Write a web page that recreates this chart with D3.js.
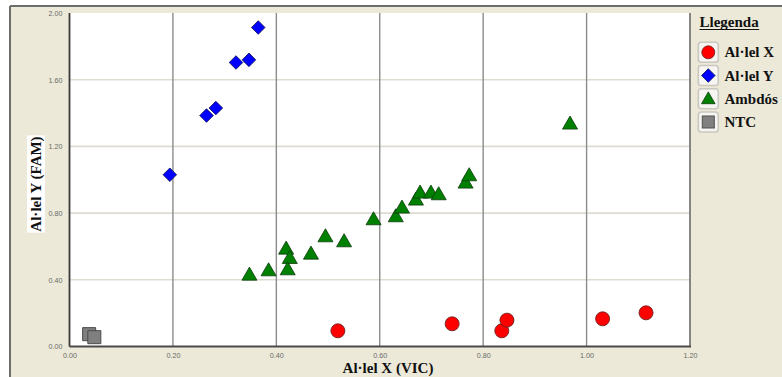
<!DOCTYPE html>
<html>
<head>
<meta charset="utf-8">
<script src="https://cdn.jsdelivr.net/npm/d3@7"></script>
<style>
  html, body { margin: 0; padding: 0; background: #ffffff; }
  svg { display: block; }
</style>
</head>
<body>
<svg id="chart" width="782" height="377"></svg>
<script>
// Allelic discrimination: VIC (allele X) vs FAM (allele Y) signal per sample
const xTicks = [0, 0.2, 0.4, 0.6, 0.8, 1.0, 1.2];
const yTicks = [0, 0.4, 0.8, 1.2, 1.6, 2.0];

const allelXvic = [0.519, 0.740, 0.836, 0.846, 1.031, 1.115];
const allelXfam = [0.094, 0.136, 0.094, 0.158, 0.166, 0.202];

const allelYvic = [0.194, 0.265, 0.283, 0.322, 0.347, 0.365];
const allelYfam = [1.030, 1.385, 1.430, 1.703, 1.719, 1.913];

const ambdosVic = [0.348, 0.385, 0.419, 0.426, 0.422, 0.467, 0.495, 0.531, 0.588,
                   0.631, 0.643, 0.670, 0.678, 0.699, 0.714, 0.766, 0.773, 0.968];
const ambdosFam = [0.424, 0.450, 0.580, 0.524, 0.456, 0.550, 0.654, 0.624, 0.756,
                   0.774, 0.826, 0.874, 0.916, 0.916, 0.906, 0.976, 1.020, 1.330];

const ntcVic = [0.038, 0.048];
const ntcFam = [0.074, 0.056];

const legendLabels = ["Al·lel X", "Al·lel Y", "Ambdós", "NTC"];

const svg = d3.select("#chart");
const W = 782, H = 377;
const plot = { left: 69.5, right: 690, top: 13, bottom: 346.5 };

// panel background and frame
svg.append("rect").attr("x", 10).attr("y", 6).attr("width", W - 10).attr("height", H - 6)
  .attr("fill", "#ece9d8");
svg.append("line").attr("x1", 10).attr("x2", W).attr("y1", 6).attr("y2", 6)
  .attr("stroke", "#6e6e6e").attr("stroke-width", 2);
svg.append("line").attr("x1", 10).attr("x2", 10).attr("y1", 6).attr("y2", H)
  .attr("stroke", "#6e6e6e").attr("stroke-width", 2);

const x = d3.scaleLinear().domain([0, 1.2]).range([plot.left, plot.right]);
const y = d3.scaleLinear().domain([0, 2]).range([plot.bottom, plot.top]);

// plot area
svg.append("rect").attr("x", plot.left).attr("y", plot.top)
  .attr("width", plot.right - plot.left).attr("height", plot.bottom - plot.top)
  .attr("fill", "#ffffff");

// horizontal grid
svg.append("g").selectAll("line").data(yTicks.filter(d => d > 0 && d < 2)).join("line")
  .attr("x1", plot.left).attr("x2", plot.right)
  .attr("y1", d => y(d)).attr("y2", d => y(d))
  .attr("stroke", "#dedbd2").attr("stroke-width", 1.6);

// vertical grid
svg.append("g").selectAll("line").data(xTicks.filter(d => d > 0 && d < 1.2)).join("line")
  .attr("x1", d => x(d)).attr("x2", d => x(d))
  .attr("y1", plot.top).attr("y2", plot.bottom)
  .attr("stroke", "#8c8c8c").attr("stroke-width", 1.4);

// plot borders
svg.append("line").attr("x1", plot.right).attr("x2", plot.right)
  .attr("y1", plot.top).attr("y2", plot.bottom)
  .attr("stroke", "#7a7a7a").attr("stroke-width", 1.8);
svg.append("line").attr("x1", plot.left).attr("x2", plot.right + 1)
  .attr("y1", plot.bottom).attr("y2", plot.bottom)
  .attr("stroke", "#4a4a4a").attr("stroke-width", 1.8);
svg.append("line").attr("x1", plot.left).attr("x2", plot.left)
  .attr("y1", plot.top).attr("y2", plot.bottom)
  .attr("stroke", "#3a3a3a").attr("stroke-width", 1.8);

// tick labels via axes (no domain / tick lines)
const fmt = d3.format(".2f");
const xAxis = svg.append("g").attr("transform", `translate(0,${plot.bottom + 4})`)
  .call(d3.axisBottom(x).tickValues(xTicks).tickFormat(fmt).tickSize(0).tickPadding(2));
const yAxis = svg.append("g").attr("transform", `translate(${plot.left - 7},0)`)
  .call(d3.axisLeft(y).tickValues(yTicks).tickFormat(fmt).tickSize(0).tickPadding(0));
[xAxis, yAxis].forEach(g => {
  g.select(".domain").remove();
  g.selectAll("text").attr("font-family", "Arial, 'Liberation Sans', sans-serif")
    .attr("font-size", 7.2).attr("fill", "#6a6a6a");
});

// axis titles
svg.append("text").attr("x", 388).attr("y", 373).attr("text-anchor", "middle")
  .attr("font-family", "'Liberation Serif', 'Times New Roman', serif")
  .attr("font-weight", "bold").attr("font-size", 15).attr("fill", "#111")
  .text("Al·lel X (VIC)");

const yTitleG = svg.append("g").attr("transform", "translate(41,184) rotate(-90)");
const yTitleBg = yTitleG.append("rect").attr("fill", "#ffffff");
const yTitle = yTitleG.append("text").attr("x", 0).attr("y", 0).attr("text-anchor", "middle")
  .attr("font-family", "'Liberation Serif', 'Times New Roman', serif")
  .attr("font-weight", "bold").attr("font-size", 15).attr("fill", "#111")
  .text("Al·lel Y (FAM)");
const bb = yTitle.node().getBBox();
yTitleBg.attr("x", bb.x - 1).attr("y", bb.y - 1).attr("width", bb.width + 2).attr("height", bb.height + 1);

// marker shapes
const diamond = d3.symbol().type(d3.symbolSquare).size(92);
const triangle = d3.symbol().type(d3.symbolTriangle).size(98);
const square = d3.symbol().type(d3.symbolSquare).size(170);

const pts = (xs, ys) => xs.map((v, i) => ({ vx: v, vy: ys[i] }));

const gMarks = svg.append("g");

gMarks.append("g").selectAll("path").data(pts(ntcVic, ntcFam)).join("path")
  .attr("d", square)
  .attr("transform", d => `translate(${x(d.vx)},${y(d.vy)})`)
  .attr("fill", "#7f7f7f").attr("stroke", "#4a4a4a").attr("stroke-width", 1);

gMarks.append("g").selectAll("path").data(pts(ambdosVic, ambdosFam)).join("path")
  .attr("d", triangle)
  .attr("transform", d => `translate(${x(d.vx)},${y(d.vy)})`)
  .attr("fill", "#008000").attr("stroke", "#0c3a0c").attr("stroke-width", 0.8);

gMarks.append("g").selectAll("path").data(pts(allelYvic, allelYfam)).join("path")
  .attr("d", diamond)
  .attr("transform", d => `translate(${x(d.vx)},${y(d.vy)}) rotate(45)`)
  .attr("fill", "#0000ff").attr("stroke", "#10105a").attr("stroke-width", 0.8);

gMarks.append("g").selectAll("circle").data(pts(allelXvic, allelXfam)).join("circle")
  .attr("cx", d => x(d.vx)).attr("cy", d => y(d.vy)).attr("r", 7)
  .attr("fill", "#ff0000").attr("stroke", "#6e2020").attr("stroke-width", 0.9);

// legend
const lg = svg.append("g");
const lgTitle = lg.append("text").attr("x", 699.5).attr("y", 27)
  .attr("font-family", "'Liberation Serif', 'Times New Roman', serif")
  .attr("font-weight", "bold").attr("font-size", 15).attr("fill", "#111")
  .text("Llegenda");
const tb = lgTitle.node().getBBox();
lg.append("line").attr("x1", tb.x).attr("x2", tb.x + tb.width).attr("y1", 29.5).attr("y2", 29.5)
  .attr("stroke", "#111").attr("stroke-width", 1.2);

const legendY = d3.scalePoint().domain(legendLabels).range([52.3, 122]);
const drawers = [
  g => g.append("circle").attr("r", 6.5).attr("fill", "#ff0000").attr("stroke", "#6e2020").attr("stroke-width", 0.8),
  g => g.append("path").attr("d", diamond).attr("transform", "rotate(45)").attr("fill", "#0000ff").attr("stroke", "#10105a").attr("stroke-width", 0.8),
  g => g.append("path").attr("d", d3.symbol().type(d3.symbolTriangle).size(80)).attr("transform", "translate(0,1)").attr("fill", "#008000").attr("stroke", "#0c3a0c").attr("stroke-width", 0.8),
  g => g.append("rect").attr("x", -6).attr("y", -6).attr("width", 12).attr("height", 12).attr("fill", "#808080").attr("stroke", "#505050").attr("stroke-width", 1)
];
legendLabels.forEach((lab, i) => {
  const cy = legendY(lab);
  const item = lg.append("g").attr("transform", `translate(708.3,${cy})`);
  item.append("rect").attr("x", -10).attr("y", -10).attr("width", 20).attr("height", 20).attr("rx", 3)
    .attr("fill", "#f6f5f1").attr("stroke", "#c9c7c0").attr("stroke-width", 1.6);
  drawers[i](item);
  lg.append("text").attr("x", 724.5).attr("y", cy + 5)
    .attr("font-family", "'Liberation Serif', 'Times New Roman', serif")
    .attr("font-weight", "bold").attr("font-size", 15).attr("fill", "#111")
    .text(lab);
});
</script>
</body>
</html>
